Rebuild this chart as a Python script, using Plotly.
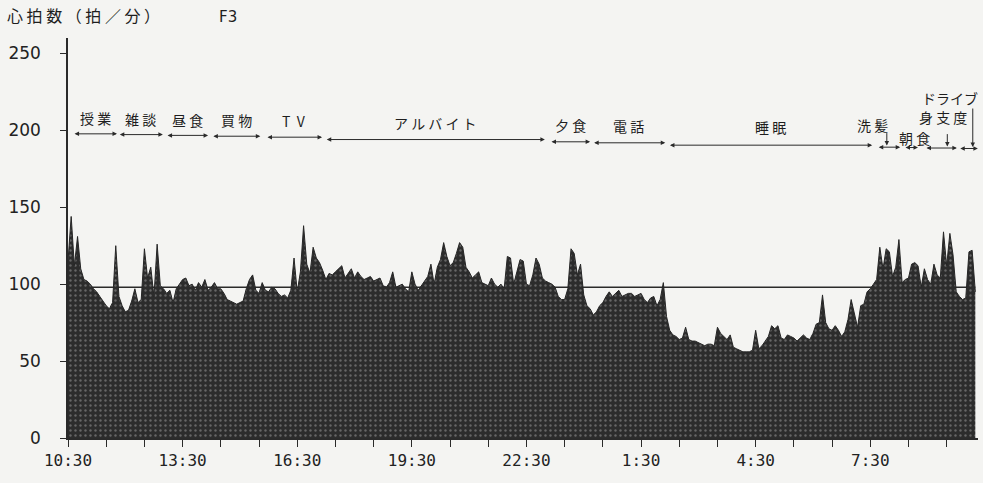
import plotly.graph_objects as go

# ---- data -------------------------------------------------------------
START_LABEL = "10:30"
STEP_MIN = 5  # one reading every 5 minutes, starting 10:30

hr_h00 = [115, 144, 112, 131, 110, 103, 102, 100, 97, 95, 92, 89]
hr_h01 = [86, 84, 88, 125, 92, 86, 82, 83, 89, 97, 88, 90]
hr_h02 = [123, 104, 111, 92, 126, 99, 97, 94, 96, 88, 97, 100]
hr_h03 = [103, 104, 99, 100, 96, 101, 98, 103, 96, 98, 101, 97]
hr_h04 = [97, 94, 90, 89, 88, 87, 88, 89, 97, 103, 106, 96]
hr_h05 = [94, 101, 96, 95, 98, 97, 94, 92, 93, 91, 96, 117]
hr_h06 = [95, 108, 138, 113, 107, 124, 117, 114, 109, 103, 107, 106]
hr_h07 = [108, 110, 112, 104, 107, 110, 104, 108, 105, 103, 104, 105]
hr_h08 = [102, 103, 104, 99, 98, 101, 108, 98, 99, 100, 97, 95]
hr_h09 = [108, 100, 96, 99, 102, 105, 113, 100, 111, 116, 127, 118]
hr_h10 = [112, 114, 120, 127, 124, 111, 108, 104, 106, 108, 101, 100]
hr_h11 = [99, 104, 100, 98, 100, 97, 118, 117, 100, 108, 116, 115]
hr_h12 = [100, 99, 106, 117, 113, 104, 102, 101, 100, 98, 92, 90]
hr_h13 = [90, 97, 123, 120, 106, 113, 93, 86, 84, 80, 82, 86]
hr_h14 = [88, 92, 95, 92, 94, 96, 92, 93, 94, 94, 92, 93]
hr_h15 = [94, 90, 88, 91, 92, 86, 90, 101, 79, 70, 67, 66]
hr_h16 = [64, 65, 72, 64, 63, 63, 62, 61, 60, 61, 61, 60]
hr_h17 = [72, 68, 66, 64, 67, 59, 58, 57, 56, 56, 56, 57]
hr_h18 = [70, 58, 60, 63, 66, 73, 71, 73, 65, 64, 67, 66]
hr_h19 = [65, 63, 65, 67, 65, 64, 68, 74, 75, 93, 75, 71]
hr_h20 = [70, 73, 70, 66, 69, 77, 90, 80, 72, 86, 87, 95]
hr_h21 = [97, 100, 103, 124, 110, 123, 121, 105, 111, 129, 101, 103]
hr_h22 = [104, 113, 114, 112, 98, 110, 103, 100, 113, 106, 104, 134]
hr_h23 = [112, 133, 119, 95, 92, 90, 91, 121, 122, 95]

REF_LEVEL = 98          # horizontal reference line
REF_START = "11:00"

x_tick_labels = ["10:30", "13:30", "16:30", "19:30", "22:30", "1:30", "4:30", "7:30"]
y_tick_values = [0, 50, 100, 150, 200, 250]

# activities: (label, start, end)
act_names = ["授 業", "雑 談", "昼 食", "買 物", "T  V", "ア ル バ イ ト",
             "夕 食", "電 話", "睡 眠", "洗 髪", "朝 食", "身 支 度", "ド ラ イ ブ"]
act_start = ["10:38", "11:49", "13:04", "14:16", "15:41", "17:14",
             "23:07", "0:14", "2:13", "7:41", "8:23", "8:56", "9:49"]
act_end = ["11:47", "12:59", "14:10", "15:32", "17:09", "22:59",
           "0:10", "2:08", "7:33", "8:17", "8:45", "9:46", "10:19"]

# short morning activities: where their labels / pointer arrows sit
morning_label_at = ["7:34", "8:40", "9:24", "9:35"]
morning_pointer_at = ["7:56", None, "9:31", "10:11"]

# ---- build --------------------------------------------------------------
hr = (hr_h00 + hr_h01 + hr_h02 + hr_h03 + hr_h04 + hr_h05 + hr_h06 + hr_h07 +
      hr_h08 + hr_h09 + hr_h10 + hr_h11 + hr_h12 + hr_h13 + hr_h14 + hr_h15 +
      hr_h16 + hr_h17 + hr_h18 + hr_h19 + hr_h20 + hr_h21 + hr_h22 + hr_h23)


def clock_to_h(s):
    h, m = map(int, s.split(":"))
    h0, m0 = map(int, START_LABEL.split(":"))
    d = (h * 60 + m) - (h0 * 60 + m0)
    if d < 0:
        d += 24 * 60
    return d / 60.0


x = [i * STEP_MIN / 60.0 for i in range(len(hr))]
x_end = x[-1]

fig = go.Figure()
fig.add_trace(go.Scatter(
    x=x, y=hr, mode="lines", fill="tozeroy",
    line=dict(color="#262626", width=1),
    fillcolor="#333333",
    fillpattern=dict(shape=".", bgcolor="#2c2c2c", fgcolor="#a0a0a0",
                     size=5, solidity=0.18),
    hoverinfo="skip", showlegend=False,
))

# reference line (drawn beneath the trace)
fig.add_shape(type="line", x0=clock_to_h(REF_START), x1=x_end,
              y0=REF_LEVEL, y1=REF_LEVEL, xref="x", yref="y",
              line=dict(color="#2a2a2a", width=1.3), layer="below")

# the scanned sheet is slightly rotated: annotation rows drift downward to the right
def arrow_level(h):
    return 198 - 10 * h / 24.0


def label_level(h):
    return 208 - 8 * h / 24.0


annotations = []
font_jp = dict(family="Noto Sans CJK JP", size=14, color="#1e1e1e")
arrow_style = dict(arrowsize=0.9, arrowwidth=1, arrowcolor="#2a2a2a")
for name, s, e in zip(act_names, act_start, act_end):
    hs, he = clock_to_h(s), clock_to_h(e)
    lv = arrow_level((hs + he) / 2)
    annotations.append(dict(
        x=he, y=lv, ax=hs, ay=lv, xref="x", yref="y",
        axref="x", ayref="y", text="", showarrow=True,
        arrowhead=2, startarrowhead=2, arrowside="end+start", **arrow_style))

n_day = len(act_names) - len(morning_label_at)
for name, s, e in list(zip(act_names, act_start, act_end))[:n_day]:
    hs, he = clock_to_h(s), clock_to_h(e)
    mid = (hs + he) / 2
    annotations.append(dict(x=mid, y=label_level(mid), xref="x", yref="y",
                            text=name, showarrow=False, font=font_jp))

# morning labels are stacked (rows above the arrow line)
morning_rows = [1.0, 0.0, 1.8, 3.3]
for name, lab, ptr, row in zip(act_names[n_day:], morning_label_at,
                               morning_pointer_at, morning_rows):
    hl = clock_to_h(lab)
    annotations.append(dict(x=hl, y=arrow_level(hl) + 6 + row * 8, xref="x",
                            yref="y", text=name.replace(" ", "") if row > 3 else name,
                            showarrow=False, font=font_jp))
    if ptr is not None:
        hp = clock_to_h(ptr)
        annotations.append(dict(x=hp, y=arrow_level(hp) + 1, ax=0,
                                ay=-14 if row < 3 else -40,
                                xref="x", yref="y", text="", showarrow=True,
                                arrowhead=2, **arrow_style))

# titles
annotations.append(dict(x=-0.069, y=1.058, xref="paper", yref="paper",
                        xanchor="left", yanchor="middle",
                        text="心 拍 数 （ 拍 ／ 分 ）", showarrow=False,
                        font=dict(family="Noto Sans CJK JP", size=16, color="#1e1e1e")))
annotations.append(dict(x=0.176, y=1.053, xref="paper", yref="paper",
                        xanchor="center", yanchor="middle", text="F3",
                        showarrow=False,
                        font=dict(family="DejaVu Sans", size=15, color="#1e1e1e")))

tickvals_x = list(range(0, 24))
ticktext_x = []
for h in tickvals_x:
    ticktext_x.append(x_tick_labels[h // 3] if h % 3 == 0 else "")

fig.update_layout(
    width=983, height=483,
    margin=dict(l=68, r=5, t=38, b=45),
    paper_bgcolor="#f4f4f2", plot_bgcolor="#f4f4f2",
    annotations=annotations,
    xaxis=dict(range=[0, 23.82], tickvals=tickvals_x, ticktext=ticktext_x,
               showgrid=False, zeroline=False, showline=True,
               linecolor="#2a2a2a", linewidth=1.5, ticks="outside",
               ticklen=7, tickcolor="#2a2a2a",
               tickfont=dict(family="DejaVu Sans Mono", size=16, color="#222")),
    yaxis=dict(range=[0, 260], tickvals=y_tick_values,
               showgrid=False, zeroline=False, showline=True,
               linecolor="#2a2a2a", linewidth=1.5, ticks="outside",
               ticklen=6, tickcolor="#2a2a2a", ticklabelstandoff=16,
               tickfont=dict(family="DejaVu Sans", size=17, color="#222")),
)

fig.write_html("out.html",
               config={"displayModeBar": False},
               post_script="document.body.style.margin='0';document.body.style.overflow='hidden';")
